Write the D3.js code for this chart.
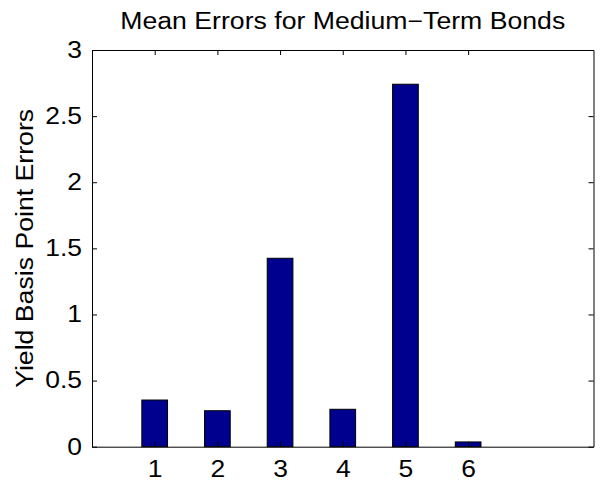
<!DOCTYPE html>
<html>
<head>
<meta charset="utf-8">
<script src="https://cdn.jsdelivr.net/npm/d3@7"></script>
<style>
  body { margin: 0; background: #fff; }
  text { font-family: "Liberation Sans", Arial, sans-serif; fill: #000; }
</style>
</head>
<body>
<div id="chart"></div>
<script>
// data
const categories = [1, 2, 3, 4, 5, 6];
const meanErrors = [0.353, 0.272, 1.425, 0.283, 2.741, 0.036];
const yTicks = [0, 0.5, 1, 1.5, 2, 2.5, 3];
const yTickLabels = ["0", "0.5", "1", "1.5", "2", "2.5", "3"];

const W = 600, H = 489;
const margin = {top: 50, right: 6.5, bottom: 42.3, left: 92};
const w = W - margin.left - margin.right;
const h = H - margin.top - margin.bottom;

// the original figure text is a bit wider than Arial, stretch it
const fontSize = 23;
const stretch = 1.15;

let svg = d3.select("#chart").append("svg")
  .attr("width", W).attr("height", H);

let g = svg.append("g")
  .attr("transform", "translate(" + margin.left + "," + margin.top + ")");

let xScale = d3.scaleLinear().domain([0, 8]).range([0, w]);
let yScale = d3.scaleLinear().domain([0, 3]).range([h, 0]);

// bars
const barW = 0.41;
g.selectAll(".bar")
  .data(meanErrors)
  .enter().append("rect")
  .attr("class", "bar")
  .attr("x", (d, i) => xScale(categories[i] - barW / 2))
  .attr("y", d => yScale(d))
  .attr("width", xScale(barW) - xScale(0))
  .attr("height", d => h - yScale(d))
  .style("fill", "#00008f")
  .style("stroke", "#000")
  .style("stroke-width", 1);

// axes, ticks pointing inward like matlab
const tickLen = 5;
let xBottom = d3.axisBottom(xScale).tickValues(categories)
  .tickSizeInner(-tickLen).tickSizeOuter(0).tickPadding(14).tickFormat(d3.format("d"));
let xTop = d3.axisTop(xScale).tickValues(categories)
  .tickSizeInner(-tickLen).tickSizeOuter(0).tickFormat("");
let yLeft = d3.axisLeft(yScale).tickValues(yTicks)
  .tickSizeInner(-tickLen).tickSizeOuter(0).tickPadding(10)
  .tickFormat((d, i) => yTickLabels[i]);
let yRight = d3.axisRight(yScale).tickValues(yTicks)
  .tickSizeInner(-tickLen).tickSizeOuter(0).tickFormat("");

function styleAxis(sel) {
  sel.attr("font-size", fontSize).attr("font-family", "Liberation Sans, Arial, sans-serif");
  sel.selectAll("path, line").attr("stroke", "#000").attr("stroke-width", 1);
  sel.selectAll("text").attr("fill", "#000");
}

g.append("g").attr("transform", "translate(0," + h + ")").call(xBottom).call(styleAxis)
  .selectAll("text").attr("transform", "scale(" + stretch + ",1)");
g.append("g").call(xTop).call(styleAxis);
let yAxisG = g.append("g").call(yLeft).call(styleAxis);
yAxisG.selectAll("text")
  .attr("x", -10 / stretch)
  .attr("transform", "scale(" + stretch + ",1)");
g.append("g").attr("transform", "translate(" + w + ",0)").call(yRight).call(styleAxis);

// title
svg.append("text")
  .attr("x", margin.left + w / 2).attr("y", 28.5)
  .attr("text-anchor", "middle")
  .attr("font-size", fontSize)
  .attr("textLength", 445).attr("lengthAdjust", "spacingAndGlyphs")
  .text("Mean Errors for Medium\u2212Term Bonds");

// y label
svg.append("text")
  .attr("transform", "translate(33," + (margin.top + h / 2) + ") rotate(-90)")
  .attr("text-anchor", "middle")
  .attr("font-size", fontSize)
  .attr("textLength", 279).attr("lengthAdjust", "spacingAndGlyphs")
  .text("Yield Basis Point Errors");
</script>
</body>
</html>
